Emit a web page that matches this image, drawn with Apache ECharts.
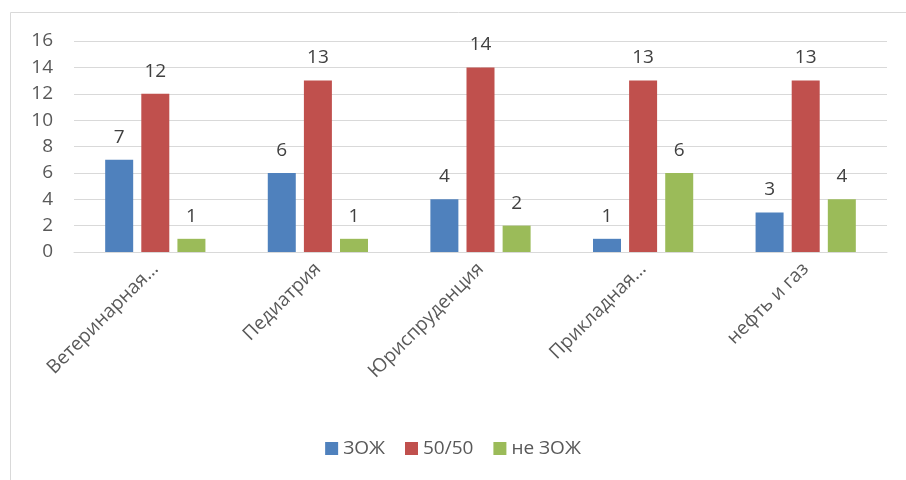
<!DOCTYPE html>
<html><head><meta charset="utf-8">
<script src="https://cdn.jsdelivr.net/npm/echarts@6/dist/echarts.min.js"></script>
<style>html,body{margin:0;padding:0;background:#fff}#c{width:906px;height:480px}</style>
</head><body><div id="c"></div>
<script>
const categories = ['Ветеринарная…', 'Педиатрия', 'Юриспруденция', 'Прикладная…', 'нефть и газ'];
const seriesNames = ['ЗОЖ', '50/50', 'не ЗОЖ'];
const zozh = [7, 6, 4, 1, 3];
const half = [12, 13, 14, 13, 13];
const neZozh = [1, 1, 2, 6, 4];
const yTicks = [0, 2, 4, 6, 8, 10, 12, 14, 16];
const colors = ['#4f81bd', '#c0504d', '#9bbb59'];

const font = 'Open Sans';
const chart = echarts.init(document.getElementById('c'));
const mk = (name, data, color) => ({
  name, type: 'bar', data,
  barWidth: 28, barGap: '29%',
  itemStyle: { color },
  label: { show: true, position: 'top', distance: 13, color: '#404040', fontSize: 19, fontFamily: font }
});
chart.setOption({
  animation: false,
  color: colors,
  graphic: [{ type: 'rect', shape: { x: 10.5, y: 12.5, width: 1000, height: 1000 }, style: { fill: 'none', stroke: '#d9d9d9', lineWidth: 1 }, silent: true }],
  grid: { left: 74, right: 19, top: 41, bottom: 228, containLabel: false },
  legend: {
    bottom: 17, left: 'center', itemWidth: 13, itemHeight: 13, itemGap: 20,
    icon: 'rect',
    textStyle: { fontSize: 19, color: '#595959', fontFamily: font },
    data: seriesNames
  },
  xAxis: {
    type: 'category', data: categories,
    axisLine: { lineStyle: { color: '#d9d9d9' } },
    axisTick: { show: false },
    axisLabel: { rotate: 45, margin: 14, color: '#595959', fontSize: 19, fontFamily: font, interval: 0 }
  },
  yAxis: {
    type: 'value', min: yTicks[0], max: yTicks[yTicks.length - 1], interval: 2,
    axisLine: { show: false }, axisTick: { show: false },
    splitLine: { lineStyle: { color: '#d9d9d9' } },
    axisLabel: { color: '#595959', fontSize: 19, fontFamily: font, margin: 21 }
  },
  series: [mk(seriesNames[0], zozh, colors[0]), mk(seriesNames[1], half, colors[1]), mk(seriesNames[2], neZozh, colors[2])]
});
</script></body></html>
